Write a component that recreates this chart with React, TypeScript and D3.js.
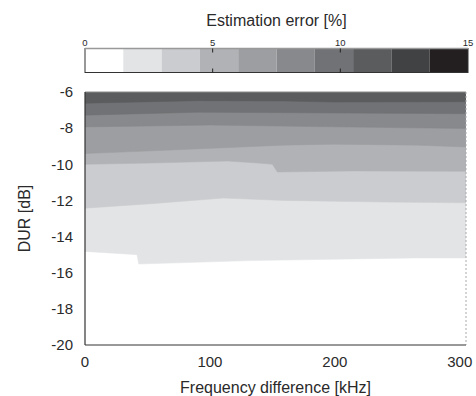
import React from 'react';
import * as d3 from 'd3';

// ---- data ----
const xTicks = [0, 100, 200, 300];
const yTicks = [-6, -8, -10, -12, -14, -16, -18, -20];
const cbTicks = [0, 5, 10, 15];
const levelEdges = [0, 1.5, 3, 4.5, 6, 7.5, 9, 10.5, 12, 13.5, 15];
const levelColors = ['#ffffff', '#e3e4e6', '#cbcccf', '#b1b2b5', '#9d9ea1', '#88898c', '#717275', '#5b5c5e', '#404244', '#231f20'];

// contour boundaries [kHz, DUR dB]; region above each line has error >= level
const contour1_5: [number, number][] = [[0, -14.82], [41.6, -15.0], [43, -15.52], [133, -15.33], [266, -15.18], [305, -15.18]];
const contour3_0: [number, number][] = [[0, -12.43], [53, -12.18], [111, -11.87], [159, -12.0], [239, -12.09], [305, -12.13]];
const contour4_5: [number, number][] = [[0, -10.0], [53, -9.93], [114, -9.82], [138, -9.93], [150, -10.0], [154, -10.43], [213, -10.37], [305, -10.39]];
const contour6_0: [number, number][] = [[0, -9.41], [79, -9.18], [159, -8.94], [199, -8.89], [266, -8.94], [305, -9.04]];
const contour7_5: [number, number][] = [[0, -7.93], [100, -7.83], [170, -7.9], [305, -8.02]];
const contour9_0: [number, number][] = [[0, -7.28], [90, -7.12], [170, -7.15], [305, -7.2]];
const contour10_5: [number, number][] = [[0, -6.62], [90, -6.48], [160, -6.5], [200, -6.56], [305, -6.54]];
const contours = [contour1_5, contour3_0, contour4_5, contour6_0, contour7_5, contour9_0, contour10_5];

export default function App() {
  const W = 476, H = 396;
  const x = d3.scaleLinear().domain([0, 305]).range([85, 466]);
  const y = d3.scaleLinear().domain([-20, -6]).range([345, 92]);
  const cb = d3.scaleLinear().domain([0, 15]).range([85, 468]);
  const cbTop = 48.5, cbBot = 72.5;
  const font = 'Liberation Sans, Arial, sans-serif';
  const txt = '#2a2a2a';

  const area = d3.area<[number, number]>()
    .x(d => x(d[0]))
    .y0(() => y(-6))
    .y1(d => y(d[1]))
    .curve(d3.curveLinear);

  return (
    <svg width={W} height={H} style={{ position: 'absolute', left: 0, top: 0, background: '#fff' }} fontFamily={font}>
      <defs>
        <clipPath id="plotclip">
          <rect x={x(0)} y={y(-6)} width={x(305) - x(0)} height={y(-20) - y(-6)} />
        </clipPath>
      </defs>
      {/* colorbar */}
      <text x={(cb(0) + cb(15)) / 2} y={25.5} textAnchor="middle" fontSize={16} fill={txt}>Estimation error [%]</text>
      {levelColors.map((c, i) => (
        <rect key={i} x={cb(levelEdges[i])} y={cbTop} width={cb(levelEdges[i + 1]) - cb(levelEdges[i])} height={cbBot - cbTop} fill={c} />
      ))}
      <rect x={cb(0)} y={cbTop} width={cb(15) - cb(0)} height={cbBot - cbTop} fill="none" stroke="#333" strokeWidth={1} />
      <line x1={cb(0)} x2={cb(15)} y1={cbTop} y2={cbTop} stroke="#999" strokeWidth={1.5} />
      {cbTicks.map(t => (
        <g key={t}>
          {t > 0 && t < 15 && <line x1={cb(t)} x2={cb(t)} y1={cbTop} y2={cbTop + 4} stroke="#222" />}
          {t > 0 && t < 15 && <line x1={cb(t)} x2={cb(t)} y1={cbBot - 4} y2={cbBot} stroke="#222" />}
          <text x={cb(t)} y={45.5} textAnchor="middle" fontSize={9.5} fill={txt}>{t}</text>
        </g>
      ))}

      {/* contour fill */}
      <rect x={x(0)} y={y(-6)} width={x(305) - x(0)} height={y(-20) - y(-6)} fill={levelColors[0]} />
      <g clipPath="url(#plotclip)">
        {contours.map((c, i) => (
          <path key={i} d={area(c) || ''} fill={levelColors[i + 1]} stroke={levelColors[i + 1]} strokeWidth={0.5} />
        ))}
      </g>

      {/* axes frame */}
      <line x1={x(0)} x2={x(305)} y1={y(-6)} y2={y(-6)} stroke="#8a8a8a" strokeWidth={1} />
      <line x1={x(305)} x2={x(305)} y1={y(-6)} y2={y(-20)} stroke="#aaa" strokeWidth={1} strokeDasharray="2,2" />
      <line x1={x(0)} x2={x(305)} y1={y(-20)} y2={y(-20)} stroke="#777" strokeWidth={1.5} />
      <line x1={x(0)} x2={x(0)} y1={y(-6)} y2={y(-20)} stroke="#333" strokeWidth={1.2} />

      {yTicks.map(t => (
        <text key={t} x={73} y={y(t)} dy="0.35em" textAnchor="end" fontSize={15} fill={txt}>{t}</text>
      ))}
      {xTicks.map(t => (
        <text key={t} x={x(t)} y={366.5} textAnchor="middle" fontSize={15} fill={txt}>{t}</text>
      ))}
      <text x={(x(0) + x(305)) / 2} y={393} textAnchor="middle" fontSize={16} fill={txt}>Frequency difference [kHz]</text>
      <text transform={`translate(30,${(y(-6) + y(-20)) / 2}) rotate(-90)`} textAnchor="middle" fontSize={16} fill={txt}>DUR [dB]</text>
    </svg>
  );
}
